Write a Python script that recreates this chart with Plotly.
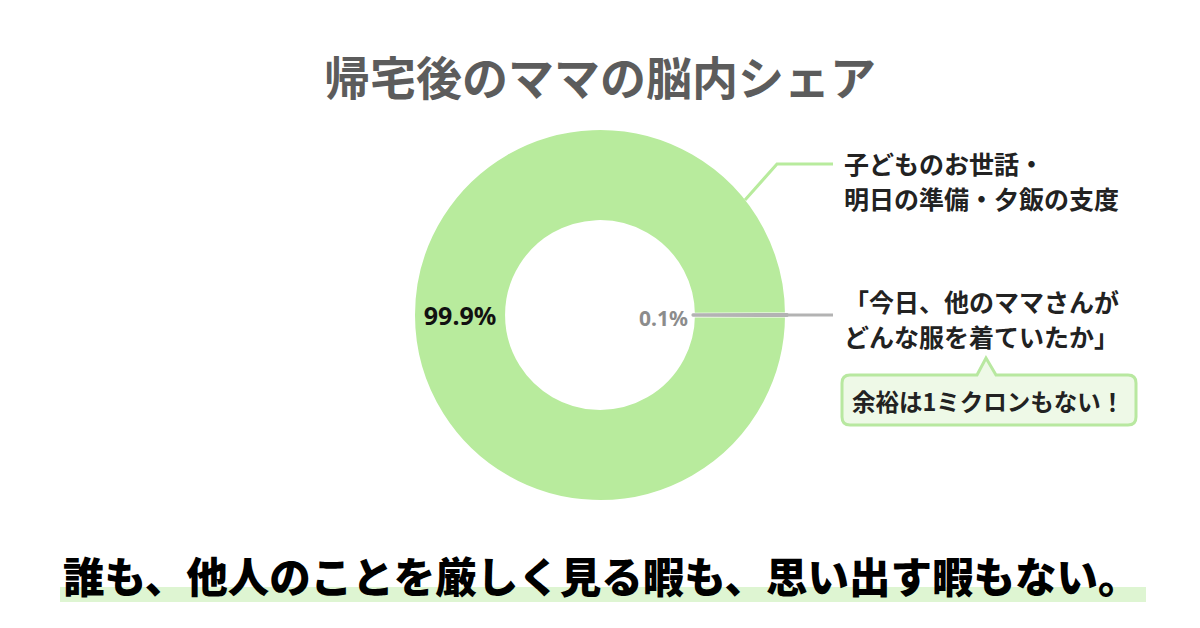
import plotly.graph_objects as go

# ---- data ----
slice_labels = ["子どものお世話・明日の準備・夕飯の支度", "今日、他のママさんがどんな服を着ていたか"]
slice_values = [99.9, 0.1]
slice_colors = ["#b8eb9d", "#b3b3b3"]

title_text = "帰宅後のママの脳内シェア"
label1_lines = ["子どものお世話・", "明日の準備・夕飯の支度"]
label2_lines = ["「今日、他のママさんが", "どんな服を着ていたか」"]
callout_text = "余裕は1ミクロンもない！"
bottom_text = "誰も、他人のことを厳しく見る暇も、思い出す暇もない。"

W, H = 1200, 628
CX, CY, R = 600, 315, 187
FONT = "Noto Sans CJK JP"

fig = go.Figure()

fig.add_trace(go.Pie(
    labels=slice_labels,
    values=slice_values,
    sort=False,
    direction="clockwise",
    rotation=90 + slice_values[1] / 100 * 360 / 2,
    hole=0.497,
    marker=dict(colors=slice_colors,
                line=dict(color=["white", "#b3b3b3"], width=[4, 3])),
    texttemplate=["%{value:.1f}%", ""],
    textposition="inside",
    insidetextorientation="horizontal",
    textfont=dict(family="Noto Sans", size=25, color="#111111", weight="bold"),
    showlegend=False,
    hoverinfo="label+percent",
    domain=dict(x=[(CX - R) / W, (CX + R) / W],
                y=[(H - CY - R) / H, (H - CY + R) / H]),
))

shapes = []
# highlight band under bottom sentence
shapes.append(dict(type="rect", xref="x", yref="y", x0=60, x1=1146, y0=587, y1=602,
                   fillcolor="#def5d2", line=dict(width=0), layer="below"))
# leader line for green slice
shapes.append(dict(type="path", xref="x", yref="y",
                   path="M 745 200 L 777 164 L 833 164",
                   line=dict(color="#b8eb9d", width=3)))
# leader line for grey slice
shapes.append(dict(type="line", xref="x", yref="y", x0=CX + R - 3, x1=833, y0=CY, y1=CY,
                   line=dict(color="#b3b3b3", width=3)))
# callout box with pointer
x0, x1, y0, y1, rr = 842, 1136, 375, 425, 8
path = (f"M {x0+rr} {y0} L 977 {y0} L 986 358 L 996 {y0} L {x1-rr} {y0} "
        f"Q {x1} {y0} {x1} {y0+rr} L {x1} {y1-rr} Q {x1} {y1} {x1-rr} {y1} "
        f"L {x0+rr} {y1} Q {x0} {y1} {x0} {y1-rr} L {x0} {y0+rr} Q {x0} {y0} {x0+rr} {y0} Z")
shapes.append(dict(type="path", xref="x", yref="y", path=path,
                   fillcolor="#eef9e7", line=dict(color="#b8e8a0", width=3)))

label_font = dict(family=FONT, size=25, color="#222222", weight="bold")
annotations = [
    dict(x=600, y=75, xref="x", yref="y", text=title_text, showarrow=False,
         font=dict(family=FONT, size=46, color="#5c5c5c", weight="bold")),
    dict(x=663, y=318, xref="x", yref="y", text=f"{slice_values[1]:.1f}%", showarrow=False,
         font=dict(family="Noto Sans", size=21, color="#8c8c8c", weight="bold")),
    dict(x=988, y=401, xref="x", yref="y", text=callout_text, showarrow=False,
         font=dict(family=FONT, size=23.5, color="#222222", weight="bold")),
    dict(x=601, y=575, xref="x", yref="y", text=bottom_text, showarrow=False,
         font=dict(family=FONT, size=41.5, color="#000000", weight=900)),
]
for line_text, yy in zip(label1_lines, [163, 198]):
    annotations.append(dict(x=842, y=yy, xref="x", yref="y", xanchor="left",
                            text=line_text, showarrow=False, font=label_font))
for line_text, yy in zip(label2_lines, [301, 336]):
    annotations.append(dict(x=842, y=yy, xref="x", yref="y", xanchor="left",
                            text=line_text, showarrow=False, font=label_font))

fig.update_layout(
    width=W, height=H,
    margin=dict(l=0, r=0, t=0, b=0),
    paper_bgcolor="white", plot_bgcolor="rgba(0,0,0,0)",
    xaxis=dict(range=[0, W], visible=False, fixedrange=True),
    yaxis=dict(range=[H, 0], visible=False, fixedrange=True),
    shapes=shapes, annotations=annotations,
)

fig.write_html("out.html", config={"displayModeBar": False},
               post_script="document.body.style.margin='0';")
